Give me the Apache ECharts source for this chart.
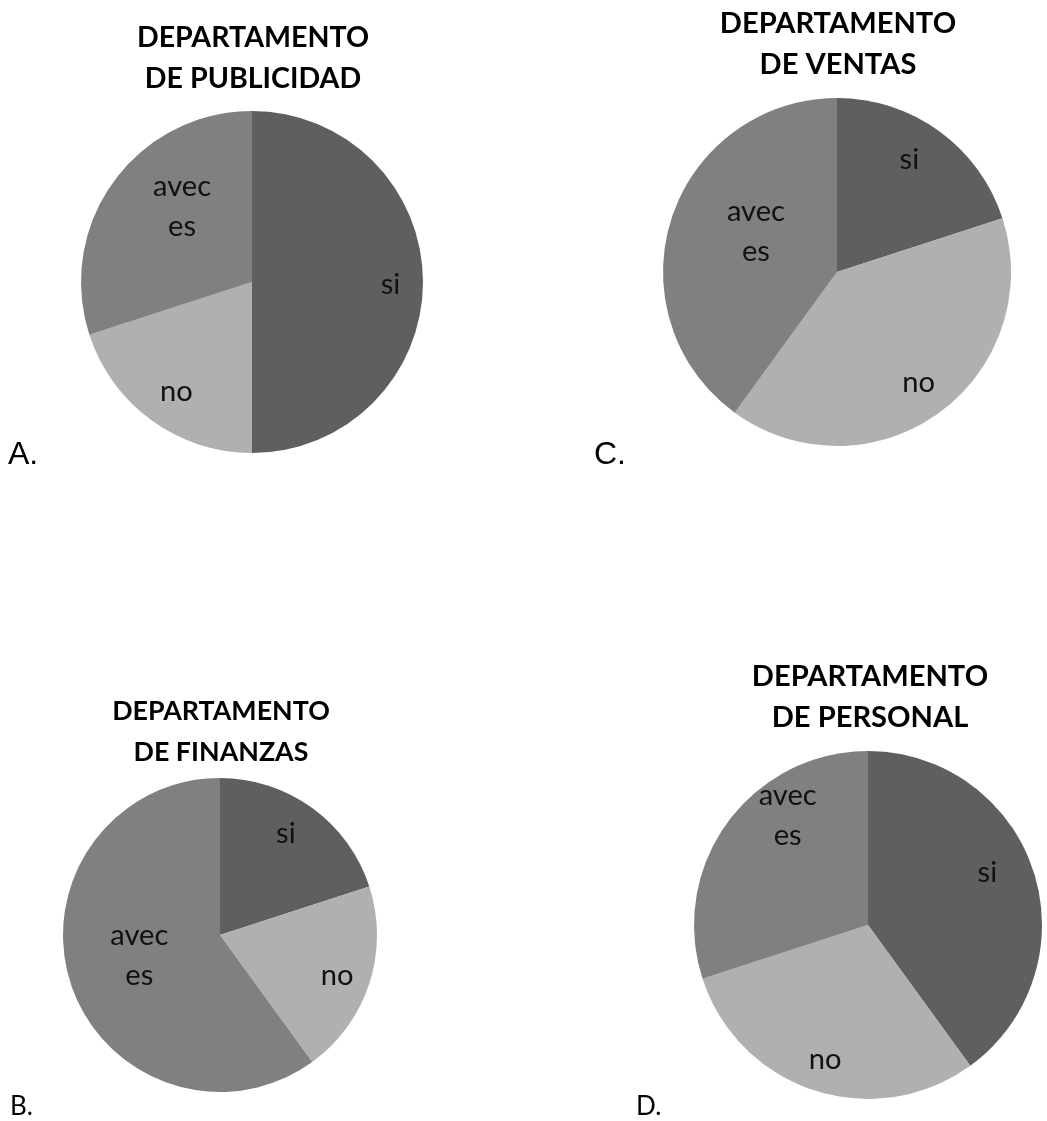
<!DOCTYPE html>
<html>
<head>
<meta charset="utf-8">
<script src="https://cdn.jsdelivr.net/npm/echarts@6/dist/echarts.min.js"></script>
<style>
html,body{margin:0;padding:0;background:#fff;}
#chart{width:1047px;height:1121px;}
</style>
</head>
<body>
<div id="chart"></div>
<script>
// ---- data ----
const categories = ['si', 'no', 'aveces'];
const publicidadValues = [50, 20, 30];
const finanzasValues = [20, 20, 60];
const ventasValues = [20, 40, 40];
const personalValues = [40, 30, 30];
const chartTitles = ['DEPARTAMENTO\nDE PUBLICIDAD', 'DEPARTAMENTO\nDE FINANZAS', 'DEPARTAMENTO\nDE VENTAS', 'DEPARTAMENTO\nDE PERSONAL'];
const panelLetters = ['A.', 'B.', 'C.', 'D.'];

// ---- layout / style ----
const sliceColors = ['#5f5f5f', '#b0b0b0', '#808080'];
const FONT = 'Lato, "Open Sans", sans-serif';
const panels = [
  { values: publicidadValues, center: [252, 282], r: 171, titleX: 248, titleTop: 12, titleW: 232,
    letterX: 8, letterY: 459, letterFont: '32px "Liberation Sans", Arial, sans-serif',
    labels: [[91, 0.81], [214.6, 0.78], [317, 0.60]] },
  { values: finanzasValues, center: [220, 935], r: 157, titleX: 216, titleTop: 686, titleW: 218,
    letterX: 10, letterY: 1114, letterFont: '26px ' + FONT,
    labels: [[33, 0.77], [109.3, 0.79], [256, 0.53]] },
  { values: ventasValues, center: [837, 272], r: 174, titleX: 833, titleTop: -2, titleW: 236,
    letterX: 594, letterY: 459, letterFont: '32px "Liberation Sans", Arial, sans-serif',
    labels: [[32.7, 0.77], [143.6, 0.79], [296.3, 0.52]] },
  { values: personalValues, center: [868, 925], r: 174, titleX: 865, titleTop: 651, titleW: 236,
    letterX: 636, letterY: 1114, letterFont: '26px ' + FONT,
    labels: [[66.2, 0.75], [197.7, 0.81], [323.7, 0.78]] }
];

function fitSize(text, weight, targetW) {
  const c = document.createElement('canvas').getContext('2d');
  c.font = weight + ' 100px ' + FONT;
  return Math.round(100 * targetW / c.measureText(text).width * 10) / 10;
}
const labelSize = fitSize('avec', 'normal', 58);

function wrapName(n) { return n.length > 4 ? n.slice(0, 4) + '\n' + n.slice(4) : n; }

const chart = echarts.init(document.getElementById('chart'), null, { renderer: 'canvas' });

const option = {
  backgroundColor: '#ffffff',
  animation: false,
  title: panels.map((p, i) => ({
    text: chartTitles[i],
    left: p.titleX,
    top: p.titleTop,
    textAlign: 'center',
    textStyle: {
      fontFamily: FONT, fontWeight: 'bold', color: '#000',
      fontSize: fitSize('DEPARTAMENTO', 'bold', p.titleW), lineHeight: 41
    }
  })),
  graphic: panels.map((p, i) => ({
    type: 'text', left: p.letterX, top: p.letterY - 20,
    style: { text: panelLetters[i], font: p.letterFont, fill: '#000' }
  })),
  series: panels.map((p, si) => ({
    type: 'pie',
    center: p.center,
    radius: [0, p.r],
    startAngle: 90,
    clockwise: true,
    silent: true,
    itemStyle: { borderWidth: 0 },
    color: sliceColors,
    label: {
      show: true, position: 'inside',
      formatter: (d) => wrapName(d.name),
      fontFamily: FONT, fontSize: labelSize, lineHeight: 40, color: '#111'
    },
    labelLine: { show: false },
    labelLayout: (params) => {
      const [ang, frac] = p.labels[params.dataIndex];
      const a = ang * Math.PI / 180;
      return {
        x: p.center[0] + Math.sin(a) * frac * p.r,
        y: p.center[1] - Math.cos(a) * frac * p.r,
        align: 'center', verticalAlign: 'middle'
      };
    },
    data: categories.map((c, k) => ({ name: c, value: p.values[k] }))
  }))
};
chart.setOption(option);
</script>
</body>
</html>
